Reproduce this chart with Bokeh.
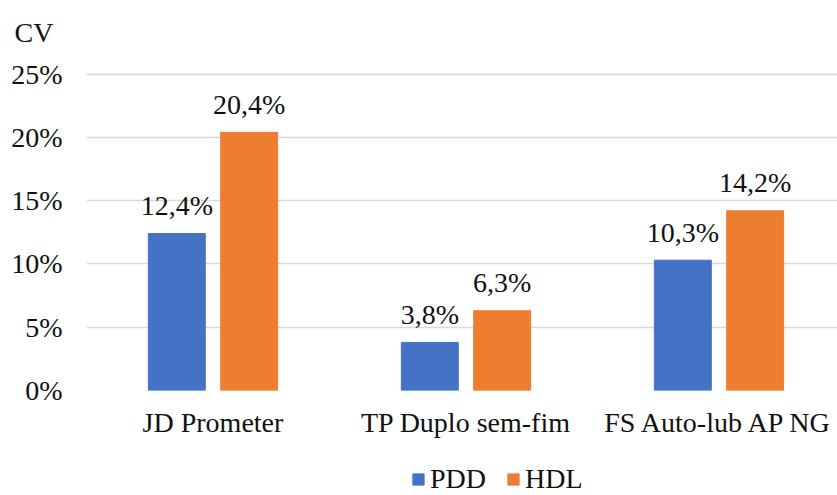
from bokeh.plotting import figure
from bokeh.layouts import column
from bokeh.models import (ColumnDataSource, Range1d, FixedTicker, PrintfTickFormatter,
                          Legend, LegendItem)
from bokeh.transform import dodge
from bokeh.embed import file_html
from bokeh.resources import INLINE
from bokeh.core.properties import value

# ---- data ----
categories = ["JD Prometer", "TP Duplo sem-fim", "FS Auto-lub AP NG"]
pdd = [12.4, 3.8, 10.3]
hdl = [20.4, 6.3, 14.2]
y_ticks = [0, 5, 10, 15, 20, 25]
series_names = ["PDD", "HDL"]
y_title = "CV"

BLUE = "#4472C4"
ORANGE = "#ED7D31"
FONT = "Liberation Serif"
FS = "28px"
TXT = "#111111"

def fmt(v):
    return f"{v:.1f}".replace(".", ",") + "%"

src = ColumnDataSource(dict(
    x=list(range(len(categories))),
    pdd=pdd, hdl=hdl,
    pdd_lbl=[fmt(v) for v in pdd],
    hdl_lbl=[fmt(v) for v in hdl],
))

p = figure(width=837, height=450, output_backend="svg", toolbar_location=None,
           x_range=Range1d(-0.5, -0.5 + 751 / 253), y_range=Range1d(0, 26.0),
           min_border_left=86, min_border_right=0, min_border_top=61, min_border_bottom=60,
           title=y_title)
p.outline_line_color = None
p.background_fill_color = "white"
p.border_fill_color = "white"

p.title.align = "left"
p.title.offset = -72
p.title.standoff = 27
p.title.text_font = FONT
p.title.text_font_size = FS
p.title.text_font_style = "normal"
p.title.text_color = TXT

off = 0.143
bw = 0.225
r1 = p.vbar(x=dodge("x", -off), top="pdd", width=bw, source=src,
            fill_color=BLUE, line_color=BLUE)
r2 = p.vbar(x=dodge("x", off), top="hdl", width=bw, source=src,
            fill_color=ORANGE, line_color=ORANGE)

p.text(x=dodge("x", -off), y="pdd", text="pdd_lbl", source=src,
       text_align="center", text_baseline="alphabetic", y_offset=-28,
       text_font=value(FONT), text_font_size=FS, text_color=TXT)
p.text(x=dodge("x", off), y="hdl", text="hdl_lbl", source=src,
       text_align="center", text_baseline="alphabetic", y_offset=-28,
       text_font=value(FONT), text_font_size=FS, text_color=TXT)

# axes
p.xaxis.ticker = FixedTicker(ticks=list(range(len(categories))))
p.xaxis.major_label_overrides = {i: c for i, c in enumerate(categories)}
p.yaxis.ticker = FixedTicker(ticks=y_ticks)
p.yaxis.formatter = PrintfTickFormatter(format="%d%%")
for ax in (p.xaxis, p.yaxis):
    ax.axis_line_color = None
    ax.major_tick_line_color = None
    ax.minor_tick_line_color = None
    ax.major_label_text_font = FONT
    ax.major_label_text_font_size = FS
    ax.major_label_text_color = TXT
p.yaxis.major_label_standoff = 18
p.xaxis.major_label_standoff = 10

p.xgrid.grid_line_color = None
p.ygrid.grid_line_color = "#D9D9D9"
p.ygrid.grid_line_width = 1.3

# legend strip below the chart (its frame aligns with the chart's frame)
p2 = figure(width=837, height=45, output_backend="svg", toolbar_location=None,
            x_range=Range1d(0, 1), y_range=Range1d(0, 1),
            x_axis_type=None, y_axis_type=None,
            min_border_left=0, min_border_right=0, min_border_top=0, min_border_bottom=0)
p2.outline_line_color = None
p2.grid.visible = False
# swatch renderers for the legend, placed outside the visible range
swatch = ColumnDataSource(dict(x=[-10], top=[-10]))
d1 = p2.vbar(x="x", top="top", width=0.1, source=swatch, fill_color=BLUE, line_color=BLUE)
d2 = p2.vbar(x="x", top="top", width=0.1, source=swatch, fill_color=ORANGE, line_color=ORANGE)

legend = Legend(items=[LegendItem(label=series_names[0], renderers=[d1]),
                       LegendItem(label=series_names[1], renderers=[d2])],
                orientation="horizontal", location=(325, 0),
                glyph_width=14, glyph_height=14, label_standoff=5, spacing=20,
                padding=0, margin=0, border_line_color=None, background_fill_alpha=0,
                label_text_font=FONT, label_text_font_size=FS, label_text_color=TXT)
p2.add_layout(legend, "center")

open("out.html", "w").write(file_html(column(p, p2, spacing=0), INLINE))
